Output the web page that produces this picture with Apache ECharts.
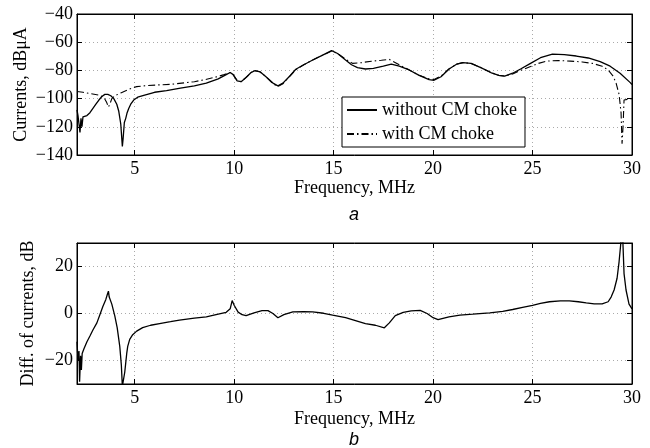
<!DOCTYPE html>
<html><head><meta charset="utf-8">
<script src="https://cdn.jsdelivr.net/npm/echarts@6/dist/echarts.min.js"></script>
<style>html,body{margin:0;padding:0;background:#fff}#c{width:650px;height:448px}</style>
</head><body><div id="c"></div>
<script>
// ---- data ----
const freqWithout = [2.10,2.15,2.20,2.25,2.30,2.35,2.40,2.50,2.60,2.75,2.90,3.05,3.20,3.35,3.50,3.65,3.80,3.95,4.10,4.20,4.30,4.38,4.42,4.48,4.55,4.62,4.70,4.80,4.95,5.15,5.50,6.00,6.60,7.30,8.00,8.60,9.20,9.60,9.80,9.95,10.15,10.35,10.60,10.85,11.05,11.30,11.60,11.95,12.20,12.45,12.80,13.10,13.50,13.95,14.40,14.90,15.20,15.60,15.90,16.20,16.60,17.00,17.50,17.90,18.30,18.80,19.30,19.80,20.05,20.40,20.80,21.20,21.50,21.90,22.40,22.90,23.30,23.60,24.00,24.40,24.90,25.40,26.00,26.60,27.20,27.80,28.40,28.90,29.40,29.90,30.00];
const currWithout = [-108,-112,-118,-124,-114,-120,-113,-114,-112,-110,-107,-104,-101,-98.5,-97,-97,-98,-100,-104,-109,-118,-134,-128,-117,-114,-110,-107,-104,-101,-99,-97.5,-95.5,-94.4,-92.5,-91,-89,-86,-83,-81.5,-83,-87.5,-88,-85,-81.5,-80.2,-81,-84.5,-89,-91,-89,-84,-79.2,-76,-72.6,-69.5,-66,-68,-72.6,-76,-78,-79,-78.5,-77,-75.5,-77,-79.7,-83.5,-86.5,-87,-84.5,-79,-75.5,-74.5,-75,-78,-81.5,-83.5,-84,-82,-79,-75,-71,-68.4,-68.8,-69.8,-71.2,-73.8,-77,-82,-88.5,-90];

const freqWith = [2.10,2.40,2.80,3.20,3.45,3.60,3.68,3.75,3.85,4.00,4.30,4.70,5.10,5.60,6.20,6.80,7.50,8.00,8.45,9.00,9.50,9.80,9.95,10.15,10.35,10.60,10.85,11.05,11.30,11.60,11.95,12.20,12.45,12.80,13.10,13.50,13.95,14.40,14.90,15.20,15.60,15.95,16.40,16.90,17.40,17.80,18.30,18.80,19.30,19.80,20.05,20.40,20.80,21.20,21.50,21.90,22.40,22.90,23.30,23.60,24.00,24.40,24.90,25.30,25.70,26.30,26.90,27.50,28.00,28.50,28.80,29.05,29.20,29.35,29.45,29.50,29.55,29.60,29.70,30.00];
const currWith = [-95,-95.5,-96.5,-97.5,-99,-103,-106,-104,-100,-98,-96,-93.5,-91.5,-90.8,-90.3,-89.9,-88.8,-88,-86.8,-85,-83,-81.5,-83,-87,-88,-85,-81.5,-80.2,-81,-84.5,-89.5,-91.5,-89.5,-84,-79.5,-76,-72.6,-69.5,-66.3,-68,-72,-75,-74.5,-73.5,-72.8,-72.2,-76,-79.7,-83.5,-86,-86.5,-84,-79,-75.5,-74.5,-75,-78,-81.5,-83.5,-84,-82.5,-80,-77.3,-75,-73.4,-73,-73.4,-74,-75,-77,-79.7,-84,-89,-97,-110,-132,-120,-101,-100,-100];

const freqDiff = [2.10,2.15,2.20,2.23,2.28,2.32,2.36,2.45,2.60,2.75,2.90,3.10,3.25,3.40,3.55,3.62,3.68,3.72,3.85,4.00,4.12,4.25,4.33,4.38,4.45,4.50,4.55,4.60,4.65,4.75,4.90,5.10,5.40,5.80,6.25,6.80,7.25,8.00,8.60,9.20,9.60,9.80,9.90,10.00,10.20,10.40,10.60,11.00,11.40,11.70,11.95,12.20,12.50,12.95,13.50,13.95,14.50,14.95,15.60,16.10,16.60,17.10,17.55,17.80,18.10,18.50,18.90,19.35,19.70,20.00,20.25,20.80,21.35,22.00,22.85,23.50,24.00,24.50,25.00,25.40,25.85,26.40,26.85,27.30,27.70,28.10,28.50,28.80,28.95,29.10,29.25,29.35,29.45,29.50,29.60,29.70,29.85,30.00];
const diffDb = [-12,-20,-16,-29,-18,-24,-17,-15,-12,-9.6,-7,-4,-0.5,3,6,8,9.5,7,4,-1,-6,-14,-22,-31,-31,-25,-21,-17,-14,-11,-9,-7.5,-6,-5,-4.3,-3.5,-2.8,-2,-1.4,-0.3,0.5,2,5.5,3.5,0.6,-0.5,-0.9,0.3,1.2,1.2,0,-1.8,-0.5,0.7,0.8,0.7,0.1,-0.7,-1.8,-3,-4.3,-5,-6.1,-4,-0.9,0.5,1.1,1.3,0,-1.8,-2.6,-1.4,-0.7,-0.3,0.3,0.9,1.7,2.6,3.5,4.3,5,5.4,5.4,5,4.5,4.1,4.1,5,7,10,15,22,31,40,17,10,4,2];

const xTicks = [5,10,15,20,25,30];
const yTicksTop = [-140,-120,-100,-80,-60,-40];
const yTicksBottom = [-20,0,20];
const seriesNames = ['without CM choke','with CM choke'];
const xName = 'Frequency, MHz';
const yNameTop = 'Currents, dB\u03bcA';
const yNameBottom = 'Diff. of currents, dB';

const zip = (xs, ys) => xs.map((x, i) => [x, ys[i]]);
const SERIF = "'Liberation Serif','Times New Roman',serif";
const fmt = list => v => list.some(t => Math.abs(t - v) < 1e-6) ? String(v).replace('-', '\u2212') : '';

function xAx(gi, pos, ticks, gap) {
  const main = pos === 'bottom';
  return {
    type: 'value', gridIndex: gi, position: pos, min: 2.1, max: 30, splitNumber: 5,
    name: main ? xName : '', nameLocation: 'middle', nameGap: gap, nameMoveOverlap: false,
    nameTextStyle: { fontFamily: SERIF, fontSize: 18, color: '#000' },
    axisLine: { show: true, onZero: false, lineStyle: { color: '#000', width: 1 } },
    axisTick: { show: true, inside: true, length: 5, lineStyle: { color: '#000' } },
    axisLabel: { show: main, formatter: fmt(ticks), fontFamily: SERIF, fontSize: 18, color: '#000', margin: 5, showMinLabel: false, showMaxLabel: true },
    splitLine: { show: main, lineStyle: { color: '#aaa', type: [1, 3], width: 1 } }
  };
}
function yAx(gi, pos, min, max, split, ticks, name, gap) {
  const main = pos === 'left';
  return {
    type: 'value', gridIndex: gi, position: pos, min: min, max: max, splitNumber: split,
    name: main ? name : '', nameLocation: 'middle', nameGap: gap, nameMoveOverlap: false,
    nameTextStyle: { fontFamily: SERIF, fontSize: 18, color: '#000' },
    axisLine: { show: true, onZero: false, lineStyle: { color: '#000', width: 1 } },
    axisTick: { show: true, inside: true, length: 5, lineStyle: { color: '#000' } },
    axisLabel: { show: main, formatter: fmt(ticks), fontFamily: SERIF, fontSize: 18, color: '#000', margin: 4, showMinLabel: true, showMaxLabel: true },
    splitLine: { show: main, lineStyle: { color: '#aaa', type: [1, 3], width: 1 } }
  };
}

const chart = echarts.init(document.getElementById('c'), null, { renderer: 'canvas' });
chart.setOption({
  animation: false,
  backgroundColor: '#fff',
  title: [
    { text: 'a', left: 344, top: 201, textStyle: { fontFamily: "'Liberation Sans',Arial,sans-serif", fontStyle: 'italic', fontWeight: 'normal', fontSize: 18, color: '#000' } },
    { text: 'b', left: 344, top: 426, textStyle: { fontFamily: "'Liberation Sans',Arial,sans-serif", fontStyle: 'italic', fontWeight: 'normal', fontSize: 18, color: '#000' } }
  ],
  grid: [
    { left: 77, right: 18, top: 14, height: 141, show: true, borderColor: '#000', borderWidth: 1, backgroundColor: '#fff' },
    { left: 77, right: 18, top: 243, height: 141, show: true, borderColor: '#000', borderWidth: 1, backgroundColor: '#fff' }
  ],
  xAxis: [xAx(0, 'bottom', xTicks, 24), xAx(0, 'top', xTicks, 0), xAx(1, 'bottom', xTicks, 26), xAx(1, 'top', xTicks, 0)],
  yAxis: [
    yAx(0, 'left', -140, -40, 5, yTicksTop, yNameTop, 47),
    yAx(0, 'right', -140, -40, 5, yTicksTop, '', 0),
    yAx(1, 'left', -30, 30, 3, yTicksBottom, yNameBottom, 40),
    yAx(1, 'right', -30, 30, 3, yTicksBottom, '', 0)
  ],
  legend: {
    orient: 'vertical', left: 342, top: 97,
    backgroundColor: '#fff', borderColor: '#000', borderWidth: 1,
    padding: [4, 8, 4, 4], itemGap: 6, itemWidth: 30, itemHeight: 14,
    itemStyle: { opacity: 0 },
    textStyle: { fontFamily: SERIF, fontSize: 18, color: '#000' },
    data: seriesNames
  },
  series: [
    { name: seriesNames[0], type: 'line', xAxisIndex: 0, yAxisIndex: 0, data: zip(freqWithout, currWithout),
      showSymbol: false, symbol: 'none', lineStyle: { color: '#000', width: 1.3, type: 'solid' }, itemStyle: { color: '#000' }, z: 3 },
    { name: seriesNames[1], type: 'line', xAxisIndex: 0, yAxisIndex: 0, data: zip(freqWith, currWith),
      showSymbol: false, symbol: 'none', lineStyle: { color: '#000', width: 1.1, type: [7, 3, 1.5, 3] }, itemStyle: { color: '#000' }, z: 2 },
    { name: 'diff', type: 'line', xAxisIndex: 2, yAxisIndex: 2, data: zip(freqDiff, diffDb),
      showSymbol: false, symbol: 'none', clip: true, lineStyle: { color: '#000', width: 1.3 }, itemStyle: { color: '#000' } }
  ]
});
</script></body></html>
